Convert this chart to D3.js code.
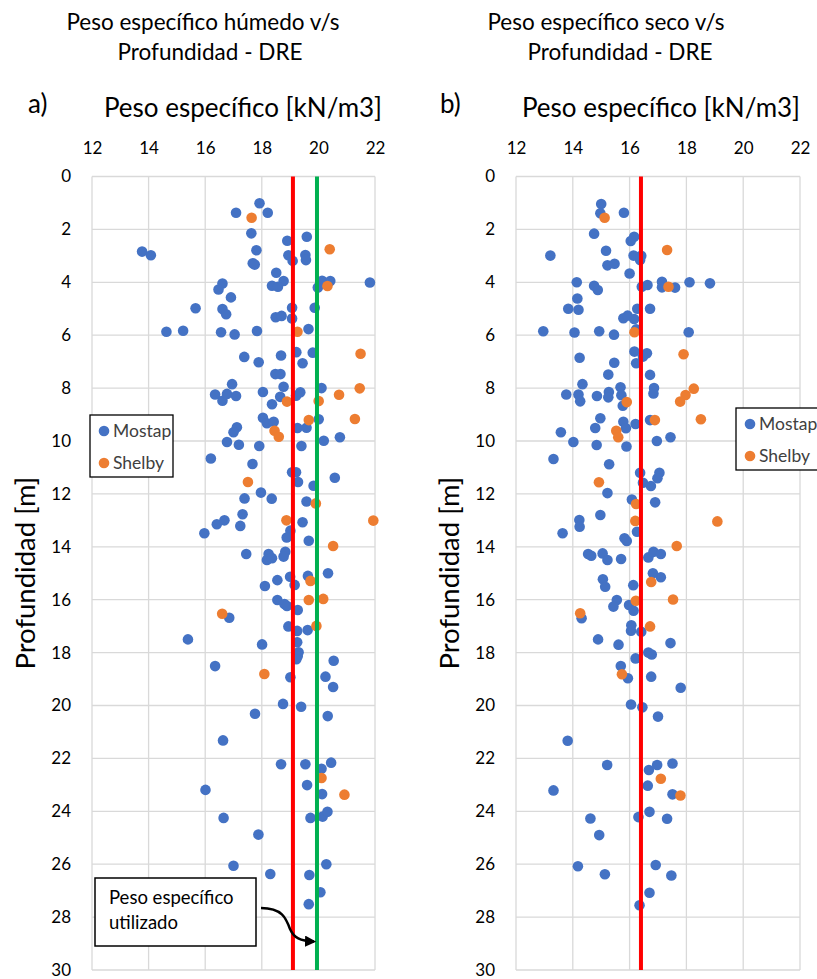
<!DOCTYPE html>
<html>
<head>
<meta charset="utf-8">
<script src="https://cdn.jsdelivr.net/npm/d3@7"></script>
<style>
  body { margin: 0; background: #fff; }
  text { font-family: Lato, "Open Sans", sans-serif; fill: #000; }
</style>
</head>
<body>
<div id="chart"></div>
<script>
// data: [peso especifico kN/m3, profundidad m]
var humedoMostap = [
  [17.92,1.01],[17.09,1.37],[18.21,1.37],[17.63,2.15],[18.90,2.43],[19.59,2.28],[13.77,2.84],[14.08,2.98],[17.81,2.79],
  [17.68,3.28],[17.75,3.33],[18.94,2.98],[19.09,3.19],[19.54,2.97],[19.56,3.16],[18.51,3.64],[18.77,3.95],[18.36,4.13],
  [18.57,4.17],[20.13,3.94],[20.42,3.95],[19.98,4.20],[21.82,4.01],[16.61,4.05],[16.47,4.27],[16.91,4.57],[15.66,4.98],
  [16.61,5.01],[16.74,5.21],[19.07,4.96],[19.87,4.96],[18.49,5.32],[18.70,5.27],[19.07,5.37],[14.63,5.87],[15.22,5.83],
  [16.56,5.89],[17.04,5.97],[17.83,5.84],[19.65,5.77],[17.38,6.82],[17.89,7.02],[18.68,6.77],[19.22,6.64],[19.80,6.66],
  [19.44,7.06],[18.48,7.47],[18.66,7.47],[16.95,7.85],[18.77,7.95],[20.11,8.00],[16.35,8.24],[16.61,8.48],[16.77,8.22],
  [17.09,8.30],[18.04,8.15],[18.65,8.33],[19.21,8.29],[19.36,8.16],[18.36,8.61],[18.04,9.12],[18.18,9.33],[18.42,9.27],
  [20.01,9.18],[19.26,9.51],[19.58,9.50],[17.12,9.48],[17.00,9.67],[16.77,10.04],[17.19,10.14],[17.91,10.19],[19.40,10.19],
  [20.19,9.99],[20.76,9.86],[16.20,10.66],[17.67,10.87],[19.07,11.18],[19.21,11.18],[19.28,11.55],[19.83,11.69],[20.58,11.39],
  [17.97,11.95],[17.39,12.17],[18.35,12.18],[19.58,12.29],[17.32,12.77],[16.41,13.15],[16.68,13.00],[17.24,13.21],[15.97,13.49],
  [19.44,13.07],[19.01,13.39],[18.88,13.65],[19.66,13.77],[17.45,14.27],[18.24,14.27],[18.18,14.50],[18.36,14.43],[18.83,14.19],
  [18.77,14.37],[19.00,15.13],[19.16,15.44],[19.63,15.10],[20.34,15.00],[18.55,15.26],[18.11,15.48],[18.55,16.01],[18.80,16.16],
  [18.89,16.24],[19.27,16.39],[16.85,16.68],[18.94,17.01],[19.25,17.18],[19.62,17.15],[15.39,17.50],[18.01,17.69],[19.25,17.61],
  [19.30,17.99],[19.27,18.13],[19.22,18.25],[20.54,18.31],[16.35,18.51],[19.01,18.93],[20.25,18.91],[20.52,19.30],[18.75,19.94],
  [19.39,20.05],[17.76,20.31],[20.33,20.40],[16.63,21.32],[18.68,22.22],[19.54,22.22],[20.11,22.39],[20.45,22.16],[16.01,23.19],
  [19.60,23.01],[20.13,23.35],[16.65,24.25],[19.72,24.25],[20.15,24.20],[20.32,24.02],[17.88,24.88],[17.00,26.06],[18.30,26.37],
  [19.68,26.41],[20.28,26.00],[20.07,27.06],[19.66,27.51]
];
var humedoShelby = [
  [17.64,1.56],[20.40,2.75],[20.32,4.14],[19.26,5.87],[21.49,6.70],[21.46,8.01],[18.89,8.51],[20.01,8.49],[20.73,8.25],
  [19.66,9.21],[21.29,9.17],[18.45,9.61],[18.60,9.84],[17.51,11.55],[19.91,12.36],[18.87,13.00],[21.94,13.01],[20.52,13.97],
  [19.72,15.29],[19.66,16.01],[20.17,15.97],[16.60,16.53],[19.93,16.99],[18.09,18.81],[20.11,22.74],[20.92,23.37]
];
var secoMostap = [
  [15.00,1.04],[14.97,1.39],[15.80,1.37],[14.75,2.16],[16.16,2.28],[16.04,2.44],[13.21,2.99],[15.17,2.81],[16.14,2.99],
  [16.41,3.00],[16.37,3.16],[15.22,3.36],[15.47,3.30],[16.00,3.67],[14.14,4.00],[14.75,4.13],[14.88,4.29],[16.43,4.17],
  [16.63,4.10],[17.14,3.98],[17.14,4.19],[17.60,4.20],[18.11,4.00],[18.83,4.04],[14.16,4.61],[13.84,5.00],[14.20,5.04],
  [16.27,5.00],[16.72,5.00],[15.78,5.36],[15.93,5.26],[16.16,5.39],[16.23,5.78],[12.96,5.85],[14.06,5.90],[14.93,5.85],
  [15.45,5.98],[18.08,5.89],[16.17,6.62],[16.61,6.68],[16.47,6.81],[14.24,6.85],[15.46,7.04],[16.23,7.06],[15.25,7.49],
  [16.72,7.50],[14.34,7.85],[15.68,7.97],[16.86,8.00],[16.84,8.20],[13.77,8.24],[14.20,8.24],[14.26,8.50],[14.85,8.30],
  [15.27,8.15],[15.25,8.35],[15.71,8.27],[15.76,8.67],[14.97,9.14],[14.79,9.51],[13.58,9.67],[14.02,10.04],[14.84,10.15],
  [15.78,9.27],[15.87,9.52],[16.21,9.36],[15.89,10.21],[16.72,9.21],[16.96,10.00],[17.44,9.86],[13.32,10.68],[15.28,10.88],
  [16.37,11.20],[17.05,11.20],[16.98,11.41],[16.47,11.58],[16.75,11.70],[15.22,11.97],[16.08,12.21],[16.90,12.32],[14.97,12.80],
  [14.23,12.99],[14.24,13.24],[13.64,13.49],[16.26,13.43],[15.82,13.68],[15.90,13.78],[14.54,14.27],[14.65,14.34],[15.05,14.25],
  [15.22,14.50],[15.70,14.46],[16.66,14.40],[16.84,14.19],[17.10,14.27],[16.82,15.00],[17.10,15.15],[15.06,15.23],[15.14,15.51],
  [16.13,15.45],[15.55,16.01],[15.43,16.26],[15.98,16.20],[16.14,16.42],[14.31,16.70],[16.06,16.97],[16.05,17.17],[16.41,17.21],
  [14.89,17.50],[15.61,17.70],[17.44,17.64],[16.66,18.00],[16.78,18.07],[16.21,18.22],[15.69,18.51],[15.94,18.97],[16.76,18.91],
  [17.80,19.33],[16.05,19.96],[16.45,20.07],[17.00,20.42],[13.82,21.33],[15.21,22.25],[16.68,22.44],[16.97,22.25],[17.51,22.19],
  [13.32,23.21],[16.64,23.03],[17.51,23.36],[16.70,24.02],[16.31,24.22],[17.32,24.28],[14.62,24.27],[14.93,24.90],[14.18,26.08],
  [15.13,26.38],[16.92,26.03],[17.47,26.43],[16.70,27.08],[16.35,27.55]
];
var secoShelby = [
  [15.12,1.56],[17.32,2.78],[17.37,4.17],[16.17,5.89],[17.90,6.72],[18.26,8.02],[17.97,8.26],[17.78,8.51],[15.90,8.53],
  [15.53,9.61],[15.60,9.86],[16.89,9.21],[18.51,9.18],[14.92,11.56],[16.23,12.38],[16.20,13.02],[19.09,13.04],[17.66,13.97],
  [16.76,15.33],[17.53,15.99],[16.22,16.04],[14.26,16.51],[16.72,17.01],[15.73,18.82],[17.10,22.77],[17.79,23.40]
];
var xTicks = [12, 14, 16, 18, 20, 22];
var yTicks = [0, 2, 4, 6, 8, 10, 12, 14, 16, 18, 20, 22, 24, 26, 28, 30];
var seriesNames = ['Mostap', 'Shelby'];
var seriesColors = ['#4472c4', '#ed7d31'];
// vertical reference lines (kN/m3)
var humedoRefs = [19.1, 19.95];
var secoRefs = [16.4];
var refColors = ['#ff0000', '#00b050'];

var svgWidth = 817;
var svgHeight = 979;

var svg = d3.select('#chart')
  .append('svg')
  .attr('width', svgWidth)
  .attr('height', svgHeight);

var defs = svg.append('defs');
defs.append('marker')
  .attr('id', 'arrow')
  .attr('viewBox', '0 0 10 10')
  .attr('refX', 8).attr('refY', 5)
  .attr('markerWidth', 4.5).attr('markerHeight', 4.5)
  .attr('orient', 'auto')
  .append('path')
  .attr('d', 'M0,0 L10,5 L0,10 z')
  .attr('fill', '#000');

var plotTop = 176.5;
var plotBottom = 970;

function drawPanel(opts) {
  var x = d3.scaleLinear().domain([12, 22]).range([opts.left, opts.right]);
  var y = d3.scaleLinear().domain([0, 30]).range([plotTop, plotBottom]);
  var g = svg.append('g');

  // grid
  g.selectAll('.vgrid').data(xTicks).enter().append('line')
    .attr('x1', d => x(d)).attr('x2', d => x(d))
    .attr('y1', plotTop).attr('y2', plotBottom)
    .attr('stroke', '#d9d9d9').attr('stroke-width', 1.3);
  g.selectAll('.hgrid').data(yTicks).enter().append('line')
    .attr('x1', opts.left).attr('x2', opts.right)
    .attr('y1', d => y(d)).attr('y2', d => y(d))
    .attr('stroke', '#d9d9d9').attr('stroke-width', 1.3);

  // axes (labels only)
  var xAxis = g.append('g')
    .attr('transform', `translate(0, ${plotTop})`)
    .call(d3.axisTop(x).tickValues(xTicks).tickSize(0).tickPadding(23));
  var yAxis = g.append('g')
    .attr('transform', `translate(${opts.left}, 0)`)
    .call(d3.axisLeft(y).tickValues(yTicks).tickSize(0).tickPadding(21));
  [xAxis, yAxis].forEach(function(a) {
    a.select('.domain').remove();
    a.selectAll('text').style('font-size', '17px').style('font-family', 'Lato, sans-serif').attr('fill', '#000');
  });

  // points
  [opts.mostap, opts.shelby].forEach(function(data, i) {
    g.append('g').selectAll('circle')
      .data(data)
      .enter()
      .append('circle')
      .attr('cx', d => x(d[0]))
      .attr('cy', d => y(d[1]))
      .attr('r', 5.3)
      .attr('fill', seriesColors[i]);
  });

  // reference lines
  g.selectAll('.ref').data(opts.refs).enter().append('line')
    .attr('x1', d => x(d)).attr('x2', d => x(d))
    .attr('y1', plotTop).attr('y2', plotBottom)
    .attr('stroke', (d, i) => refColors[i])
    .attr('stroke-width', 4);

  // titles
  g.append('text')
    .attr('x', opts.letterX).attr('y', 113)
    .style('font-size', '26px')
    .text(opts.letter);
  g.append('text')
    .attr('x', opts.axisTitleX).attr('y', 117)
    .attr('text-anchor', 'middle')
    .style('font-size', '26px')
    .text('Peso específico [kN/m3]');
  g.append('text')
    .attr('transform', `translate(${opts.left - 57}, ${(plotTop + plotBottom) / 2}) rotate(-90)`)
    .attr('text-anchor', 'middle')
    .style('font-size', '27.5px')
    .text('Profundidad [m]');
  opts.title.forEach(function(t, i) {
    g.append('text')
      .attr('x', opts.titleX[i]).attr('y', 30 + i * 30)
      .attr('text-anchor', 'middle')
      .style('font-size', '22.5px')
      .text(t);
  });

  // legend
  var lg = g.append('g').attr('transform', `translate(${opts.legend[0]}, ${opts.legend[1]})`);
  lg.append('rect')
    .attr('width', opts.legend[2]).attr('height', 62)
    .attr('fill', '#fff').attr('stroke', '#000').attr('stroke-width', 1.3);
  seriesNames.forEach(function(name, i) {
    lg.append('circle')
      .attr('cx', 14).attr('cy', 16 + i * 32)
      .attr('r', 5.3).attr('fill', seriesColors[i]);
    lg.append('text')
      .attr('x', 23).attr('y', 16 + i * 32 + 6)
      .style('font-size', '17.5px')
      .style('fill', '#404040')
      .text(name);
  });
  return { x: x, y: y, g: g };
}

drawPanel({
  left: 92, right: 375, letter: 'a)', letterX: 28, axisTitleX: 243,
  mostap: humedoMostap, shelby: humedoShelby, refs: humedoRefs,
  title: ['Peso específico húmedo v/s', 'Profundidad - DRE'], titleX: [203, 210],
  legend: [90, 415, 83]
});
drawPanel({
  left: 516, right: 800, letter: 'b)', letterX: 440, axisTitleX: 661,
  mostap: secoMostap, shelby: secoShelby, refs: secoRefs,
  title: ['Peso específico seco v/s', 'Profundidad - DRE'], titleX: [606, 620],
  legend: [736, 408, 95]
});

// annotation box with curved arrow to the green line
var ann = svg.append('g');
ann.append('rect')
  .attr('x', 95).attr('y', 878).attr('width', 161).attr('height', 68)
  .attr('fill', '#fff').attr('stroke', '#000').attr('stroke-width', 1.5);
ann.append('text').attr('x', 109).attr('y', 904).style('font-size', '18.5px').text('Peso específico');
ann.append('text').attr('x', 109).attr('y', 929).style('font-size', '18.5px').text('utilizado');
ann.append('path')
  .attr('d', 'M261,908 C282,908 286,918 290,929 C294,938 300,941 314,941.5')
  .attr('fill', 'none').attr('stroke', '#000').attr('stroke-width', 2.5)
  .attr('marker-end', 'url(#arrow)');
</script>
</body>
</html>
